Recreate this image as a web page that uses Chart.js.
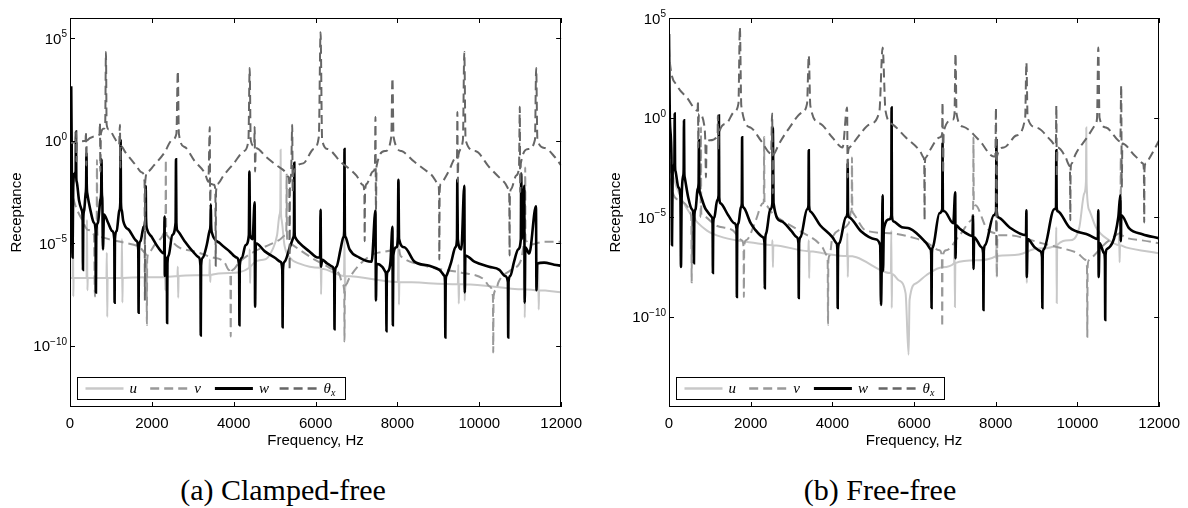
<!DOCTYPE html>
<html>
<head>
<meta charset="utf-8">
<script src="https://cdn.jsdelivr.net/npm/chart.js@4.4.1/dist/chart.umd.min.js"></script>
<style>
  body { margin: 0; background: #fff; }
  #wrap { position: relative; width: 1188px; height: 508px; overflow: hidden; }
  canvas { position: absolute; top: 0; }
  .cap { position: absolute; top: 473px; font-family: "Liberation Serif", "DejaVu Serif", serif; font-size: 30px; color: #000; white-space: nowrap; transform: translateX(-50%); }
</style>
</head>
<body>
<div id="wrap">
  <canvas id="chartA" width="590" height="460" style="left:0px"></canvas>
  <canvas id="chartB" width="589" height="460" style="left:599px"></canvas>
  <div class="cap" id="capA" style="left:283px"></div>
  <div class="cap" id="capB" style="left:880px"></div>
</div>
<script>
// values: [frequency Hz, log10(receptance)]
const seriesNames = ['u', 'v', 'w', 'θx'];
const panelTitles = ['(a) Clamped-free', '(b) Free-free'];
const xTicks = [0, 2000, 4000, 6000, 8000, 10000, 12000];
const yTickExp = [-10, -5, 0, 5];
const yRangeA = [1e-13, 1e6];
const yRangeB = [3e-15, 1e5];

// (a) clamped-free
const uA = [[0,-6.7],[65,-6.7],[73,-2.4],[80,-7.6],[88,-6.7],[405,-6.7],[415,-3.85],[425,-7.3],[435,-6.7],[890,-6.7],[900,-5.46],[910,-8.6],[920,-6.7],[1260,-6.7],[1270,-4.8],[1280,-7.9],[1290,-6.7],[2305,-6.65],[2317,-5.8],[2327,-7.3],[2337,-6.65],[2625,-6.6],[2634,-6.15],[2644,-7.66],[2654,-6.6],[3405,-6.55],[3415,-5.8],[3425,-6.9],[3435,-6.55],[3900,-6.45],[4380,-6.2],[4390,-5.3],[4400,-6.95],[4410,-6.15],[4750,-5.8],[4950,-5.3],[5060,-4.6],[5120,-3.6],[5138,-3.3],[5146,-0.44],[5154,-3.4],[5170,-3.85],[5240,-5.1],[5370,-5.7],[5610,-6.0],[6110,-6.2],[6122,-4.4],[6134,-7.5],[6146,-6.25],[6695,-6.6],[6707,-4.8],[6719,-7.6],[6731,-6.6],[8012,-6.9],[8024,-4.2],[8036,-8.0],[8048,-6.9],[9476,-7.0],[9488,-6.05],[9498,-7.95],[9510,-7.0],[9624,-7.0],[9634,-6.3],[9644,-7.8],[9654,-7.0],[11086,-7.25],[11098,-5.3],[11110,-8.63],[11122,-7.25],[11427,-7.3],[11439,-5.9],[11451,-8.24],[11463,-7.3],[12000,-7.4]];
const vA = [[0,-2.15],[122,-3.1],[293,-3.85],[439,-4.35],[585,-4.6],[610,-7.6],[634,-4.6],[651,-4.4],[659,-0.93],[667,-4.4],[683,-4.7],[732,-4.7],[1000,-4.83],[1341,-4.98],[1707,-5.2],[1830,-5.46],[1870,-5.8],[1878,-9.0],[1886,-5.8],[1927,-5.46],[2073,-5.07],[2244,-4.7],[2317,-4.44],[2333,-4.3],[2341,-0.93],[2349,-4.3],[2366,-4.6],[2634,-5.17],[3049,-5.4],[3415,-5.66],[3780,-5.95],[3878,-6.3],[3919,-6.6],[3927,-9.56],[3935,-6.6],[3976,-6.3],[4146,-5.9],[4512,-5.4],[4878,-5.07],[5122,-4.83],[5270,-4.6],[5285,-4.5],[5293,-1.66],[5301,-4.6],[5316,-4.9],[5366,-4.98],[5610,-5.32],[5976,-5.8],[6341,-6.2],[6585,-6.54],[6659,-7.0],[6699,-7.3],[6707,-9.8],[6715,-7.3],[6756,-7.0],[6805,-6.78],[7122,-5.95],[7537,-5.46],[7927,-5.32],[8000,-5.0],[8024,-3.85],[8050,-5.4],[8098,-5.66],[8756,-6.15],[9561,-6.44],[10122,-6.78],[10244,-7.1],[10333,-7.6],[10341,-10.34],[10349,-7.6],[10415,-7.27],[10463,-6.93],[10780,-6.3],[11024,-5.8],[11100,-5.0],[11114,-4.8],[11122,-1.3],[11130,-4.8],[11150,-4.9],[11220,-5.07],[11585,-4.93],[12000,-4.93]];
const wA = [[0,-0.45],[30,2.6],[45,-1.6],[62,-5.7],[78,-2.3],[110,-1.6],[138,-1.5],[146,0.45],[154,-1.8],[165,-2.0],[220,-2.9],[290,-3.4],[309,-3.8],[317,-6.3],[325,-3.8],[345,-3.4],[380,-2.6],[394,-2.2],[402,-0.6],[410,-2.2],[425,-2.6],[490,-3.3],[585,-4.0],[626,-4.4],[634,-7.4],[642,-4.4],[683,-4.0],[740,-2.9],[762,-2.5],[770,-0.9],[778,-2.5],[790,-2.9],[805,-5.3],[830,-3.6],[930,-4.0],[1030,-4.4],[1082,-4.8],[1090,-7.9],[1098,-4.8],[1140,-4.4],[1205,-3.4],[1229,-3.0],[1237,0.0],[1245,-3.0],[1265,-3.4],[1300,-3.9],[1460,-4.4],[1630,-4.9],[1668,-5.3],[1676,-8.4],[1684,-5.3],[1720,-4.9],[1800,-4.2],[1842,-3.8],[1850,-2.2],[1858,-3.8],[1880,-4.3],[2000,-4.7],[2150,-5.2],[2300,-5.5],[2310,-3.7],[2318,-6.6],[2340,-5.7],[2365,-6.0],[2373,-8.9],[2381,-6.0],[2410,-5.6],[2500,-4.6],[2580,-4.0],[2590,-0.9],[2600,-4.0],[2630,-4.4],[2800,-4.9],[3000,-5.4],[3150,-5.7],[3187,-6.1],[3195,-9.5],[3203,-6.1],[3245,-5.7],[3340,-5.1],[3410,-4.4],[3432,-4.1],[3440,-3.1],[3448,-4.1],[3470,-4.5],[3660,-5.0],[3900,-5.4],[4070,-5.7],[4132,-6.1],[4140,-9.0],[4148,-6.1],[4200,-5.7],[4290,-5.1],[4370,-4.6],[4383,-1.5],[4400,-4.6],[4460,-4.8],[4512,-3.0],[4522,-8.1],[4540,-5.0],[4760,-5.4],[5000,-5.7],[5140,-5.9],[5187,-6.3],[5195,-9.1],[5203,-6.3],[5245,-5.9],[5370,-5.2],[5460,-4.7],[5472,-4.4],[5480,-1.07],[5488,-4.4],[5500,-4.7],[5610,-5.0],[5850,-5.4],[6050,-5.7],[6110,-5.7],[6122,-3.37],[6134,-6.15],[6160,-5.8],[6290,-6.0],[6415,-6.15],[6455,-6.5],[6463,-9.2],[6471,-6.5],[6510,-6.15],[6610,-5.3],[6680,-4.7],[6699,-4.4],[6707,-0.4],[6715,-4.4],[6732,-4.7],[6830,-5.3],[7070,-5.7],[7370,-5.9],[7463,-3.4],[7475,-7.8],[7490,-6.0],[7630,-6.15],[7705,-6.4],[7724,-6.7],[7732,-9.3],[7740,-6.7],[7760,-6.4],[7830,-5.9],[7878,-4.2],[7888,-9.0],[7900,-5.6],[7975,-5.2],[8010,-4.8],[8024,-1.9],[8040,-4.8],[8170,-5.2],[8415,-5.9],[8780,-6.1],[9024,-6.3],[9146,-6.6],[9163,-6.9],[9171,-9.6],[9179,-6.9],[9195,-6.6],[9317,-5.9],[9415,-5.2],[9455,-4.8],[9463,-1.9],[9475,-4.8],[9561,-5.3],[9634,-2.2],[9646,-7.4],[9660,-5.6],[9880,-5.9],[10240,-6.15],[10490,-6.3],[10630,-6.6],[10699,-6.9],[10707,-9.6],[10715,-6.9],[10756,-6.6],[10850,-5.9],[10950,-5.3],[11015,-4.8],[11024,-1.6],[11040,-4.8],[11098,-2.2],[11110,-7.9],[11125,-5.2],[11220,-5.5],[11385,-3.2],[11397,-7.3],[11415,-6.0],[11585,-5.95],[11830,-6.05],[12000,-6.1]];
const tA = [[0,-0.1],[140,-0.05],[150,0.44],[158,-1.0],[170,-0.05],[380,0.0],[390,0.44],[398,-1.2],[410,0.0],[720,0.3],[732,0.88],[742,-1.5],[755,0.35],[830,0.6],[860,0.8],[878,4.34],[895,0.8],[950,0.55],[1100,0.1],[1200,-0.2],[1220,0.78],[1230,-1.3],[1245,-0.25],[1350,-0.55],[1600,-1.17],[1760,-1.55],[1822,-2.0],[1830,-7.8],[1838,-2.0],[1900,-1.5],[2050,-1.2],[2300,-0.6],[2500,0.05],[2600,0.35],[2634,3.41],[2660,0.35],[2800,-0.3],[3050,-1.0],[3300,-1.6],[3380,-2.0],[3415,0.68],[3425,-3.0],[3440,-2.1],[3520,-2.15],[3552,-2.5],[3560,-6.1],[3568,-2.5],[3610,-2.1],[3750,-1.7],[4000,-1.1],[4250,-0.5],[4360,0.05],[4390,3.56],[4415,0.05],[4500,-0.25],[4512,0.68],[4522,-1.5],[4540,-0.35],[4800,-0.8],[5050,-1.2],[5250,-1.5],[5330,-1.75],[5358,-2.1],[5366,-6.3],[5374,-2.1],[5400,-1.7],[5430,0.78],[5440,-2.5],[5455,-1.6],[5700,-1.1],[5950,-0.4],[6080,0.2],[6122,5.3],[6160,0.05],[6300,-0.4],[6600,-1.0],[7000,-1.7],[7150,-2.15],[7192,-2.5],[7200,-4.9],[7208,-2.5],[7250,-2.1],[7400,-1.5],[7450,-1.3],[7463,1.17],[7475,-3.37],[7490,-1.25],[7700,-0.5],[7850,0.2],[7878,3.07],[7905,0.2],[8100,-0.5],[8400,-1.0],[8800,-1.6],[9000,-2.15],[9016,-2.5],[9024,-5.8],[9032,-2.5],[9060,-2.1],[9250,-1.5],[9420,-0.85],[9455,-0.9],[9465,1.41],[9475,-2.0],[9490,-0.7],[9600,0.05],[9634,4.34],[9665,0.05],[9900,-0.5],[10250,-1.3],[10600,-2.0],[10720,-2.4],[10732,-2.7],[10740,-5.6],[10748,-2.7],[10780,-2.35],[10900,-1.7],[10970,-1.3],[10990,1.66],[11000,-2.5],[11015,-1.1],[11200,-0.4],[11360,0.05],[11390,3.56],[11420,0.05],[11600,-0.35],[11850,-0.8],[12000,-1.2]];

// (b) free-free
const uB = [[0,-2.14],[188,-3.5],[513,-4.8],[921,-5.66],[1320,-6.01],[2143,-6.31],[2525,-6.4],[2534,-6.16],[2544,-7.51],[2554,-6.4],[3412,-6.7],[3422,-6.16],[3432,-8.06],[3442,-6.7],[3764,-6.81],[4357,-6.95],[4367,-5.8],[4377,-8.0],[4387,-6.95],[4587,-7.01],[5303,-7.76],[5433,-7.8],[5443,-5.66],[5453,-9.55],[5463,-7.85],[5621,-8.16],[5792,-8.81],[5866,-11.9],[5890,-9.15],[6054,-8.31],[6298,-7.91],[6697,-7.51],[6980,-7.3],[6990,-6.2],[7000,-9.5],[7010,-7.3],[7520,-7.16],[8006,-6.95],[8016,-6.3],[8026,-8.0],[8036,-6.95],[8334,-6.91],[8740,-6.75],[8750,-6.2],[8760,-8.3],[8770,-6.75],[9141,-6.56],[9473,-6.4],[9483,-5.5],[9493,-9.3],[9503,-6.4],[9800,-6.16],[10045,-5.51],[10167,-3.8],[10208,-3.2],[10216,-0.49],[10224,-3.3],[10290,-4.65],[10454,-5.51],[10778,-6.16],[11012,-6.4],[11022,-5.8],[11032,-7.26],[11042,-6.4],[11186,-6.51],[12000,-6.81]];
const vB = [[0,-1.64],[98,-3.8],[269,-4.15],[464,-4.5],[513,-4.75],[547,-5.1],[555,-8.26],[563,-5.1],[587,-4.75],[660,-5.15],[758,-5.0],[774,-4.8],[782,-0.49],[790,-4.8],[810,-4.9],[1149,-5.41],[1564,-5.66],[1784,-6.16],[1825,-6.5],[1833,-9.0],[1841,-6.5],[1882,-6.16],[1955,-6.01],[2126,-5.15],[2297,-4.3],[2321,-4.2],[2329,-0.99],[2337,-4.2],[2370,-4.4],[2534,-4.8],[3177,-5.66],[3757,-6.51],[3861,-6.91],[3885,-7.2],[3893,-10.4],[3901,-7.2],[3935,-6.91],[4000,-6.01],[4400,-5.31],[4460,-4.7],[4472,-4.6],[4480,-2.0],[4488,-4.6],[4510,-4.8],[4546,-4.9],[4815,-5.66],[5467,-5.81],[6037,-6.06],[6298,-6.26],[6623,-6.66],[6681,-7.0],[6689,-10.5],[6697,-7.0],[6787,-6.66],[7112,-5.91],[7398,-5.15],[7446,-4.5],[7454,-0.99],[7462,-4.3],[7503,-4.4],[7765,-5.51],[8005,-5.8],[8016,-4.0],[8026,-8.0],[8040,-5.9],[8334,-5.91],[9141,-6.31],[9964,-6.76],[10208,-7.16],[10233,-7.5],[10241,-11.0],[10249,-7.5],[10278,-7.16],[10363,-7.01],[10778,-6.16],[11022,-5.81],[11052,-5.5],[11060,-2.0],[11068,-5.5],[11090,-5.9],[11584,-6.16],[12000,-6.31]];
const wB = [[0,4.2],[20,0.0],[60,-2.0],[73,-6.4],[90,-2.6],[132,-2.3],[140,0.21],[148,-2.4],[160,-2.7],[230,-3.5],[280,-4.0],[293,-7.5],[310,-4.0],[350,-2.9],[359,-2.6],[367,-0.14],[375,-2.7],[385,-3.0],[470,-4.0],[560,-4.6],[603,-5.0],[611,-7.3],[619,-5.0],[650,-4.6],[700,-3.6],[725,-3.3],[733,-1.14],[741,-3.4],[760,-3.8],[900,-4.6],[1050,-5.0],[1067,-5.3],[1075,-7.8],[1083,-5.3],[1110,-5.0],[1180,-4.15],[1214,-3.9],[1222,0.11],[1230,-4.0],[1260,-4.3],[1450,-4.9],[1600,-5.3],[1654,-5.6],[1662,-9.0],[1670,-5.6],[1700,-5.3],[1760,-4.5],[1782,-4.3],[1790,-0.99],[1798,-4.3],[1820,-4.5],[2000,-5.3],[2100,-5.6],[2300,-6.0],[2338,-6.3],[2346,-8.56],[2354,-6.2],[2380,-5.8],[2480,-4.6],[2530,-4.3],[2542,-0.5],[2560,-4.3],[2750,-5.2],[3000,-5.7],[3130,-6.0],[3169,-6.3],[3177,-9.05],[3185,-6.3],[3220,-6.0],[3380,-4.6],[3414,-4.4],[3422,-1.64],[3430,-4.4],[3460,-4.7],[3700,-5.4],[4000,-6.0],[4100,-6.3],[4122,-6.6],[4130,-9.55],[4138,-6.6],[4170,-6.3],[4330,-5.0],[4367,-4.8],[4375,-2.3],[4383,-4.8],[4410,-5.0],[4700,-5.7],[5050,-6.1],[5170,-6.4],[5190,-9.4],[5215,-6.3],[5230,-3.9],[5240,-7.7],[5260,-5.6],[5400,-5.1],[5442,-4.9],[5450,0.51],[5458,-4.9],[5490,-5.2],[5700,-5.5],[5890,-5.56],[6300,-6.3],[6400,-6.6],[6420,-6.9],[6428,-9.55],[6436,-6.8],[6460,-6.5],[6620,-4.8],[6689,-4.6],[6697,-1.29],[6705,-4.6],[6740,-4.7],[6960,-5.3],[7007,-3.75],[7015,-7.06],[7030,-5.4],[7112,-5.56],[7356,-5.9],[7430,-5.95],[7443,-4.9],[7455,-7.6],[7470,-6.0],[7650,-6.5],[7691,-6.8],[7699,-9.65],[7707,-6.7],[7740,-6.4],[7950,-4.9],[8008,-4.7],[8016,-1.14],[8024,-4.7],[8060,-5.0],[8334,-5.5],[8740,-5.9],[8750,-4.65],[8760,-8.0],[8780,-6.1],[8950,-6.5],[9090,-6.7],[9133,-7.0],[9141,-9.55],[9149,-6.9],[9180,-6.6],[9430,-4.6],[9475,-4.5],[9483,-1.64],[9491,-4.5],[9520,-4.7],[9800,-5.5],[10290,-5.9],[10500,-6.1],[10510,-4.65],[10520,-8.0],[10540,-6.3],[10650,-6.8],[10672,-7.1],[10680,-10.15],[10688,-6.9],[10720,-6.6],[11000,-5.0],[11048,-3.9],[11060,-6.2],[11075,-4.9],[11267,-5.56],[11590,-5.85],[12000,-6.06]];
const tB = [[0,3.5],[25,2.7],[200,1.6],[440,1.0],[700,0.35],[709,0.85],[718,-1.5],[730,0.2],[860,-0.35],[890,-1.3],[904,-3.0],[920,-1.3],[1000,-1.14],[1190,-0.9],[1197,0.11],[1205,-1.6],[1215,-0.85],[1400,-0.3],[1600,0.3],[1700,0.7],[1735,4.53],[1770,0.6],[2000,-0.5],[2250,-1.15],[2500,-1.8],[2525,0.21],[2542,-3.8],[2550,-2.2],[2580,-1.8],[2700,-1.3],[2950,-0.5],[3250,0.25],[3380,0.7],[3422,3.12],[3460,0.6],[3700,-0.3],[4000,-1.0],[4250,-1.5],[4360,0.51],[4375,-3.0],[4383,-1.8],[4420,-1.5],[4650,-0.9],[4900,-0.35],[5150,0.3],[5230,3.52],[5300,0.35],[5480,-0.35],[5800,-1.0],[6150,-1.7],[6230,-2.0],[6249,-2.3],[6257,-5.15],[6265,-2.3],[6290,-2.0],[6400,-1.6],[6620,-1.0],[6685,-0.85],[6697,0.77],[6710,-2.8],[6725,-0.7],[6950,-0.1],[6990,0.2],[7014,3.22],[7040,0.2],[7200,-0.45],[7600,-1.15],[7950,-1.95],[7990,-1.95],[8005,0.51],[8016,-6.5],[8030,-1.95],[8200,-1.5],[8500,-0.9],[8720,0.0],[8750,2.77],[8780,0.0],[9000,-0.5],[9350,-1.15],[9470,-1.4],[9483,0.61],[9495,-3.0],[9510,-1.5],[9700,-1.95],[9800,-2.4],[9817,-2.6],[9825,-5.15],[9833,-2.6],[9860,-2.3],[9950,-1.85],[10250,-0.95],[10450,-0.3],[10480,0.0],[10510,3.52],[10540,0.0],[10700,-0.5],[11000,-1.15],[11050,-1.2],[11071,1.62],[11085,-3.5],[11100,-1.3],[11400,-1.9],[11600,-2.3],[11626,-2.6],[11634,-5.26],[11642,-2.6],[11670,-2.3],[11800,-1.9],[12000,-1.14]];

const seriesColors = ['#c8c8c8', '#999999', '#000000', '#666666'];
const seriesWidths = [2, 2, 2.6, 2];
const seriesDash = [[], [9, 5], [], [9, 5]];

const sansFont = '"Liberation Sans", Arial, sans-serif';

// box, inward ticks on all four sides, 10^n labels and the legend inside the axes
const framePlugin = {
  id: 'frame',
  afterDraw(chart) {
    const { ctx, chartArea: a, scales } = chart;
    ctx.save();
    ctx.strokeStyle = '#000';
    ctx.lineWidth = 1;
    ctx.setLineDash([]);
    ctx.strokeRect(Math.round(a.left) + 0.5, Math.round(a.top) + 0.5, Math.round(a.right - a.left) - 1, Math.round(a.bottom - a.top) - 1);
    ctx.beginPath();
    scales.x.ticks.forEach(t => {
      const px = Math.round(scales.x.getPixelForValue(t.value)) + 0.5;
      ctx.moveTo(px, a.bottom); ctx.lineTo(px, a.bottom - 5);
      ctx.moveTo(px, a.top); ctx.lineTo(px, a.top + 5);
    });
    scales.y.ticks.forEach(t => {
      const py = Math.round(scales.y.getPixelForValue(t.value)) + 0.5;
      ctx.moveTo(a.left, py); ctx.lineTo(a.left + 5, py);
      ctx.moveTo(a.right, py); ctx.lineTo(a.right - 5, py);
    });
    ctx.stroke();

    // y tick labels as 10 with a raised exponent
    ctx.fillStyle = '#000';
    ctx.textAlign = 'right';
    ctx.textBaseline = 'alphabetic';
    scales.y.ticks.forEach(t => {
      const py = scales.y.getPixelForValue(t.value);
      const e = String(Math.round(Math.log10(t.value))).replace('-', '\u2212');
      const xr = a.left - 3;
      ctx.font = '10px ' + sansFont;
      ctx.fillText(e, xr, py - 1);
      const ew = ctx.measureText(e).width;
      ctx.font = '15px ' + sansFont;
      ctx.fillText('10', xr - ew, py + 5.5);
    });
    ctx.textAlign = 'left';

    // legend
    const bx = Math.round(a.left) + 7.5, bh = 22, bw = 268;
    const by = Math.round(a.bottom) - 29.5;
    ctx.fillStyle = '#fff';
    ctx.fillRect(bx, by, bw, bh);
    ctx.strokeRect(bx, by, bw, bh);
    const my = by + bh / 2;
    seriesNames.forEach((name, i) => {
      const x0 = bx + 8 + i * 64.7;
      ctx.beginPath();
      ctx.strokeStyle = seriesColors[i];
      ctx.lineWidth = seriesWidths[i] + 0.4;
      ctx.setLineDash(seriesDash[i]);
      ctx.moveTo(x0, my); ctx.lineTo(x0 + 38, my);
      ctx.stroke();
      ctx.setLineDash([]);
      ctx.fillStyle = '#000';
      ctx.font = 'italic 15px "Liberation Serif", serif';
      const main = name.charAt(0);
      ctx.fillText(main, x0 + 44, my + 4);
      if (name.length > 1) {
        const w = ctx.measureText(main).width;
        ctx.font = 'italic 10px "Liberation Serif", serif';
        ctx.fillText(name.slice(1), x0 + 44 + w, my + 7);
      }
    });
    ctx.restore();
  }
};

function makeChart(id, series, yRange) {
  const datasets = series.map((pts, i) => ({
    label: seriesNames[i],
    data: pts.map(([f, l]) => ({ x: f, y: Math.pow(10, l) })),
    borderColor: seriesColors[i],
    borderWidth: seriesWidths[i],
    borderDash: seriesDash[i],
    pointRadius: 0,
    cubicInterpolationMode: 'monotone',
    fill: false,
    order: 4 - i,
    clip: 0
  }));

  return new Chart(document.getElementById(id), {
    type: 'line',
    data: { datasets },
    plugins: [framePlugin],
    options: {
      responsive: false,
      animation: false,
      events: [],
      layout: { padding: { top: 18, right: 28, left: 0, bottom: 10 } },
      plugins: { legend: { display: false }, tooltip: { enabled: false } },
      scales: {
        x: {
          type: 'linear',
          min: 0,
          max: 12000,
          afterBuildTicks: s => { s.ticks = xTicks.map(v => ({ value: v })); },
          afterFit: s => { s.height = 43; },
          grid: { display: false, drawTicks: false },
          border: { display: false },
          ticks: { color: '#000', padding: 8, maxRotation: 0, font: { family: sansFont, size: 15 }, callback: v => String(v) },
          title: { display: true, text: 'Frequency, Hz', color: '#000', padding: { top: 2, bottom: 0 }, font: { family: sansFont, size: 15 } }
        },
        y: {
          type: 'logarithmic',
          min: yRange[0],
          max: yRange[1],
          afterBuildTicks: s => { s.ticks = yTickExp.map(e => ({ value: Math.pow(10, e) })); },
          afterFit: s => { s.width = 70; },
          grid: { display: false, drawTicks: false },
          border: { display: false },
          ticks: { display: false },
          title: { display: true, text: 'Receptance', color: '#000', padding: { top: 8, bottom: 0 }, font: { family: sansFont, size: 15 } }
        }
      }
    }
  });
}

makeChart('chartA', [uA, vA, wA, tA], yRangeA);
makeChart('chartB', [uB, vB, wB, tB], yRangeB);
document.getElementById('capA').textContent = panelTitles[0];
document.getElementById('capB').textContent = panelTitles[1];
</script>
</body>
</html>
